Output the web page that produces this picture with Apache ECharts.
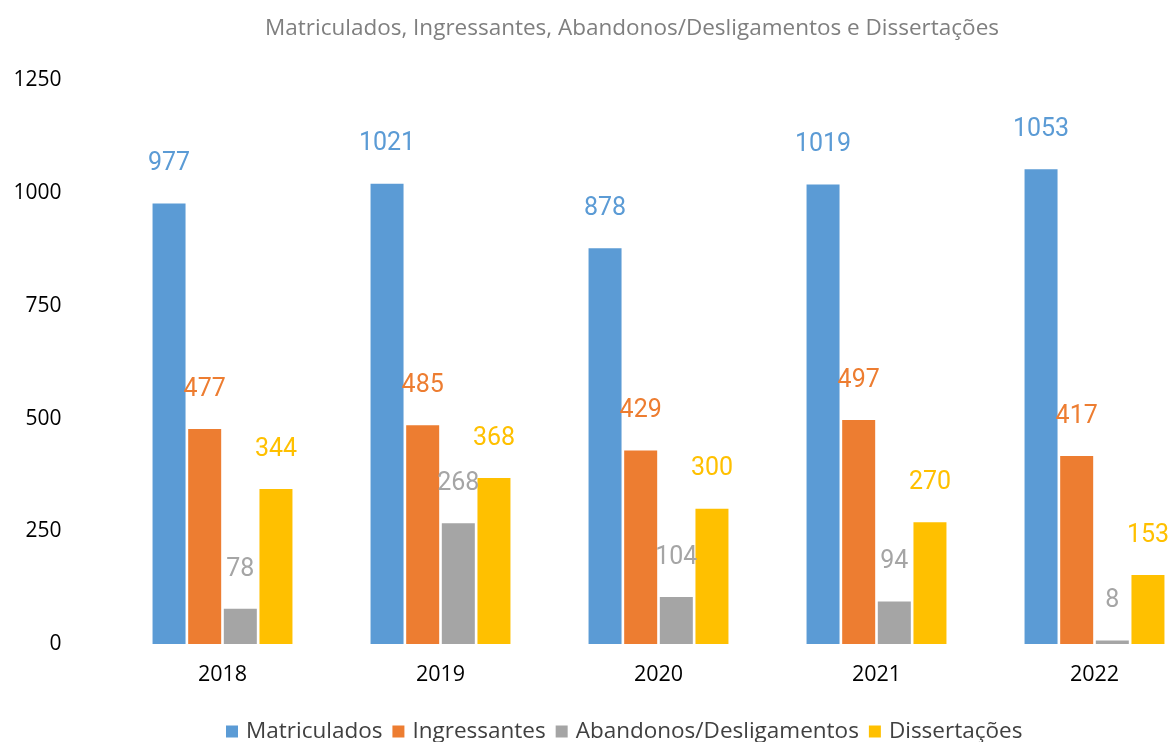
<!DOCTYPE html>
<html>
<head>
<meta charset="utf-8">
<script src="https://cdn.jsdelivr.net/npm/echarts@6/dist/echarts.min.js"></script>
<style>html,body{margin:0;padding:0;background:#fff;}#c{width:1171px;height:742px;}</style>
</head>
<body>
<div id="c"></div>
<script>
const categories = ['2018', '2019', '2020', '2021', '2022'];
const seriesNames = ['Matriculados', 'Ingressantes', 'Abandonos/Desligamentos', 'Dissertações'];
const matriculados = [977, 1021, 878, 1019, 1053];
const ingressantes = [477, 485, 429, 497, 417];
const abandonos = [78, 268, 104, 94, 8];
const dissertacoes = [344, 368, 300, 270, 153];
const colors = ['#5B9BD5', '#ED7D31', '#A5A5A5', '#FFC000'];
const titleText = 'Matriculados, Ingressantes, Abandonos/Desligamentos e Dissertações';

const dataSets = [matriculados, ingressantes, abandonos, dissertacoes];
const chart = echarts.init(document.getElementById('c'));
chart.setOption({
  animation: false,
  backgroundColor: '#fff',
  title: {
    text: titleText,
    left: 627, top: 12, textAlign: 'center',
    textStyle: { fontFamily: 'Open Sans', fontWeight: 'normal', fontSize: 22.5, color: '#7f7f7f' }
  },
  legend: {
    top: 715, left: 221, padding: 5,
    itemWidth: 12, itemHeight: 12, itemGap: 10,
    icon: 'rect',
    textStyle: { fontFamily: 'Open Sans', fontSize: 22.5, color: '#404040', padding: [0, 0, 0, 3] },
    data: seriesNames
  },
  grid: { left: 113.5, width: 1090, top: 80.4, bottom: 98, containLabel: false, outerBoundsMode: 'none' },
  xAxis: {
    type: 'category', data: categories,
    axisLine: { show: false }, axisTick: { show: false },
    axisLabel: { fontFamily: 'Open Sans', fontSize: 21.5, color: '#000', margin: 20 }
  },
  yAxis: {
    type: 'value', min: 0, max: 1250, interval: 250,
    splitLine: { show: false }, axisLine: { show: false }, axisTick: { show: false },
    axisLabel: { fontFamily: 'Open Sans', fontSize: 21, color: '#000', margin: 52, formatter: v => String(v) }
  },
  series: seriesNames.map((n, i) => ({
    name: n, type: 'bar', data: dataSets[i],
    barWidth: 33, barGap: '8%',
    itemStyle: { color: colors[i] },
    label: {
      show: true, position: 'top', distance: 27,
      fontFamily: 'Roboto', fontSize: 25, color: colors[i]
    }
  }))
});
</script>
</body>
</html>
